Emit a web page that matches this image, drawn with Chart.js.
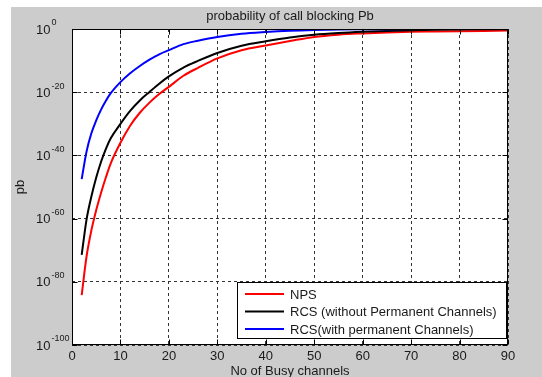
<!DOCTYPE html>
<html>
<head>
<meta charset="utf-8">
<script src="https://cdn.jsdelivr.net/npm/chart.js@4.4.1/dist/chart.umd.min.js"></script>
<style>
html, body { margin: 0; padding: 0; background: #fff; }
canvas { display: block; }
</style>
</head>
<body>
<canvas id="pbChart" width="542" height="377"></canvas>
<script>
// ========== DATA ==========
const channels = [2, 3, 4, 5, 6, 7, 8, 10, 12, 14, 16, 18, 20, 23, 26, 30, 35, 40, 45, 50, 55, 60, 65, 70, 75, 80, 85, 90];
// log10(pb)
const npsExp = [-84.2, -72.0, -63.7, -57.3, -51.8, -46.9, -42.5, -36.0, -30.6, -26.5, -23.3, -20.6, -18.3, -14.8, -12.3, -9.3, -6.7, -5.2, -3.8, -2.5, -1.8, -1.4, -1.1, -0.9, -0.8, -0.7, -0.6, -0.5];
const rcsExp = [-71.5, -60.3, -53.0, -47.0, -42.0, -37.9, -34.6, -30.0, -25.9, -22.6, -19.9, -17.3, -15.0, -12.2, -10.1, -7.6, -5.3, -3.9, -2.7, -1.85, -1.3, -0.9, -0.6, -0.4, -0.25, -0.15, -0.08, -0.05];
const rcsPermExp = [-47.5, -38.8, -33.0, -28.9, -25.5, -22.7, -20.3, -16.8, -14.0, -11.7, -9.7, -8.0, -6.7, -4.8, -3.7, -2.5, -1.5, -0.95, -0.55, -0.3, -0.15, -0.08, -0.04, -0.02, -0.01, -0.005, -0.003, -0.002];
const seriesNames = ['NPS', 'RCS (without Permanent Channels)', 'RCS(with permanent Channels)'];
const seriesColors = ['#ff0000', '#000000', '#0000ff'];
const xTicks = [0, 10, 20, 30, 40, 50, 60, 70, 80, 90];
const yTickExp = [0, -20, -40, -60, -80, -100];
const chartTitle = 'probability of call blocking Pb';
const xTitle = 'No of Busy channels';
const yTitle = 'pb';

const FONT = '"Liberation Sans", Arial, sans-serif';
const TEXT = '#1a1a1a';

function toPoints(exps) {
    return channels.map((c, i) => ({ x: c, y: Math.pow(10, exps[i]) }));
}

// ========== PLUGIN: matlab look ==========
const matlabFrame = {
    id: 'matlabFrame',
    beforeDraw(chart) {
        const { ctx, chartArea: a } = chart;
        ctx.save();
        ctx.fillStyle = '#cccccc';
        ctx.fillRect(11, 7, chart.width - 11, chart.height - 7);
        ctx.fillStyle = '#ffffff';
        ctx.fillRect(a.left, a.top, a.right - a.left, a.bottom - a.top);
        ctx.restore();
    },
    afterDatasetsDraw(chart) {
        const { ctx, chartArea: a, scales } = chart;
        const L = Math.round(a.left) + 0.5, R = Math.round(a.right) - 0.5;
        const T = Math.round(a.top) + 0.5, B = Math.round(a.bottom) - 0.5;
        ctx.save();
        ctx.strokeStyle = '#000';
        ctx.lineWidth = 1;
        ctx.setLineDash([]);
        ctx.strokeRect(L, T, R - L, B - T);
        // inner tick marks
        ctx.beginPath();
        xTicks.forEach(v => {
            const x = Math.round(scales.x.getPixelForValue(v)) + 0.5;
            ctx.moveTo(x, B); ctx.lineTo(x, B - 5);
            ctx.moveTo(x, T); ctx.lineTo(x, T + 5);
        });
        yTickExp.forEach(e => {
            const y = Math.round(scales.y.getPixelForValue(Math.pow(10, e))) + 0.5;
            ctx.moveTo(L, y); ctx.lineTo(L + 5, y);
            ctx.moveTo(R, y); ctx.lineTo(R - 5, y);
        });
        ctx.stroke();

        // legend box
        const bx = 237.5, by = 282.5, bw = 269, bh = 56;
        ctx.fillStyle = '#fff';
        ctx.fillRect(bx, by, bw, bh);
        ctx.strokeRect(bx, by, bw, bh);
        ctx.font = '13px ' + FONT;
        ctx.textBaseline = 'middle';
        ctx.textAlign = 'left';
        chart.data.datasets.forEach((ds, i) => {
            const y = 294 + i * 17.5;
            ctx.strokeStyle = ds.borderColor;
            ctx.lineWidth = 2;
            ctx.beginPath();
            ctx.moveTo(245, y); ctx.lineTo(284, y);
            ctx.stroke();
            ctx.fillStyle = TEXT;
            ctx.fillText(ds.label, 290, y + 1);
        });
        ctx.restore();
    },
    afterDraw(chart) {
        const { ctx, chartArea: a, scales } = chart;
        const cx = (a.left + a.right) / 2;
        ctx.save();
        ctx.fillStyle = TEXT;
        ctx.font = '13px ' + FONT;
        ctx.textBaseline = 'middle';
        ctx.textAlign = 'center';
        ctx.fillText(chartTitle, cx, 16);
        xTicks.forEach(v => {
            ctx.fillText(String(v), scales.x.getPixelForValue(v), 356);
        });
        ctx.fillText(xTitle, cx, 371);
        // y tick labels 10^e
        ctx.textAlign = 'left';
        yTickExp.forEach(e => {
            const y = scales.y.getPixelForValue(Math.pow(10, e));
            ctx.font = '13px ' + FONT;
            ctx.fillText('10', 36, y + 1);
            const w = ctx.measureText('10').width;
            ctx.font = '9px ' + FONT;
            ctx.fillText(String(e), 36 + w + 1, y - 6);
        });
        // y title
        ctx.font = '13px ' + FONT;
        ctx.translate(20, (a.top + a.bottom) / 2);
        ctx.rotate(-Math.PI / 2);
        ctx.textAlign = 'center';
        ctx.fillText(yTitle, 0, 0);
        ctx.restore();
    }
};

// ========== CHART ==========
const ctx = document.getElementById('pbChart').getContext('2d');
const exps = [npsExp, rcsExp, rcsPermExp];
new Chart(ctx, {
    type: 'line',
    data: {
        datasets: exps.map((e, i) => ({
            label: seriesNames[i],
            data: toPoints(e),
            borderColor: seriesColors[i],
            backgroundColor: seriesColors[i],
            borderWidth: 2,
            pointRadius: 0,
            fill: false,
            cubicInterpolationMode: 'monotone',
            order: 2 - i
        }))
    },
    options: {
        responsive: false,
        animation: false,
        devicePixelRatio: 1,
        layout: { padding: { left: 72, top: 29, right: 34, bottom: 32 } },
        plugins: { legend: { display: false }, tooltip: { enabled: false }, title: { display: false } },
        scales: {
            x: {
                type: 'linear', min: 0, max: 90,
                afterBuildTicks: s => { s.ticks = xTicks.map(v => ({ value: v })); },
                afterFit: s => { s.height = 0; },
                ticks: { display: false },
                grid: { color: '#333', lineWidth: 1, drawTicks: false },
                border: { display: false, dash: [3, 3] }
            },
            y: {
                type: 'logarithmic', min: 1e-100, max: 1,
                afterBuildTicks: s => { s.ticks = yTickExp.map(e => ({ value: Math.pow(10, e) })); },
                afterFit: s => { s.width = 0; },
                ticks: { display: false },
                grid: { color: '#333', lineWidth: 1, drawTicks: false },
                border: { display: false, dash: [3, 3] }
            }
        }
    },
    plugins: [matlabFrame]
});
</script>
</body>
</html>
